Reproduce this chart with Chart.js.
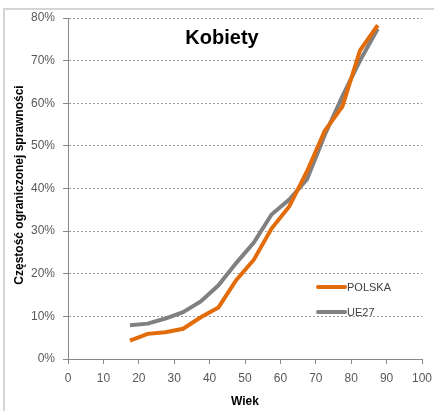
<!DOCTYPE html>
<html><head><meta charset="utf-8">
<script src="https://cdn.jsdelivr.net/npm/chart.js@4.4.1/dist/chart.umd.min.js"></script>
<style>html,body{margin:0;padding:0;background:#fff}#wrap{width:434px;height:411px;position:relative}</style>
</head><body><div id="wrap"><canvas id="c" width="434" height="411"></canvas></div>
<script>
const ages = [17.5,22.5,27.5,32.5,37.5,42.5,47.5,52.5,57.5,62.5,67.5,72.5,77.5,82.5,87.5];
const polska = [4.3,5.9,6.3,7.1,9.8,12.1,18.5,23.3,30.6,35.8,44.0,53.5,59.2,72.4,78.3];
const ue27 = [7.9,8.3,9.5,11.0,13.5,17.3,22.5,27.3,33.9,37.4,42.1,52.5,61.6,70.0,77.5];
const seriesNames = ['POLSKA','UE27'];
const chartTitle = 'Kobiety';
const xTitle = 'Wiek';
const yTitle = 'Częstość ograniczonej sprawności';

const FONT = "'Liberation Sans', Arial, sans-serif";
const colors = ['#E36C0A','#808080'];

const toPts = arr => ages.map((a,i)=>({x:a,y:arr[i]}));

const deco = {
  id:'deco',
  beforeDraw(chart){
    const ctx = chart.ctx;
    ctx.save();
    ctx.strokeStyle = '#d4d4d4';
    ctx.lineWidth = 2;
    ctx.beginPath(); ctx.moveTo(3,9); ctx.lineTo(434,9); ctx.stroke();
    ctx.beginPath(); ctx.moveTo(4,9); ctx.lineTo(4,411); ctx.stroke();
    ctx.restore();
  },
  afterDraw(chart){
    const ctx = chart.ctx;
    const ca = chart.chartArea;
    ctx.save();
    ctx.fillStyle = '#000';
    ctx.font = "bold 20px " + FONT;
    ctx.textAlign = 'center'; ctx.textBaseline = 'middle';
    ctx.fillText(chartTitle, 222, 38);
    // axis titles
    ctx.font = "bold 12px " + FONT;
    ctx.fillText(xTitle, (ca.left+ca.right)/2, 402);
    ctx.save();
    ctx.translate(20, 185);
    ctx.rotate(-Math.PI/2);
    ctx.font = "bold 12px " + FONT;
    ctx.fillText(yTitle, 0, 0);
    ctx.restore();
    // legend
    ctx.font = "11px " + FONT;
    ctx.textAlign = 'left';
    const ly = [287, 312];
    seriesNames.forEach((n,i)=>{
      ctx.strokeStyle = colors[i]; ctx.lineWidth = 4; ctx.lineCap='round';
      ctx.beginPath(); ctx.moveTo(318, ly[i]); ctx.lineTo(345, ly[i]); ctx.stroke();
      ctx.fillStyle = '#404040';
      ctx.fillText(n, 347, ly[i]+1);
    });
    ctx.restore();
  }
};

new Chart(document.getElementById('c'), {
  type:'scatter',
  data:{datasets:[
    {label:seriesNames[0], data:toPts(polska), showLine:true, borderColor:colors[0], backgroundColor:colors[0], borderWidth:4, pointRadius:0, tension:0},
    {label:seriesNames[1], data:toPts(ue27), showLine:true, borderColor:colors[1], backgroundColor:colors[1], borderWidth:4, pointRadius:0, tension:0}
  ]},
  options:{
    responsive:false, animation:false,
    layout:{padding:{left:0,right:0,top:18,bottom:4}},
    plugins:{legend:{display:false}, title:{display:false}, tooltip:{enabled:false}},
    scales:{
      x:{type:'linear', min:0, max:100,
        ticks:{stepSize:10, color:'#595959', font:{family:FONT,size:12}, padding:7, maxRotation:0},
        grid:{display:true, drawOnChartArea:false, tickLength:5, color:'#888', tickColor:'#888'},
        border:{color:'#888', width:1},
        afterFit(s){ s.height = 48; s.paddingRight = 12; s.paddingLeft = 0; }
      },
      y:{min:0, max:80,
        ticks:{stepSize:10, color:'#595959', font:{family:FONT,size:12}, padding:8, callback:v=>v+'%'},
        grid:{color:'#9a9a9a', tickLength:5, tickColor:'#888', tickBorderDash:[]},
        border:{color:'#888', width:1, dash:[2,2]},
        afterFit(s){ s.width = 68; s.paddingTop = 0; s.paddingBottom = 0; }
      }
    }
  },
  plugins:[deco]
});
</script></body></html>
